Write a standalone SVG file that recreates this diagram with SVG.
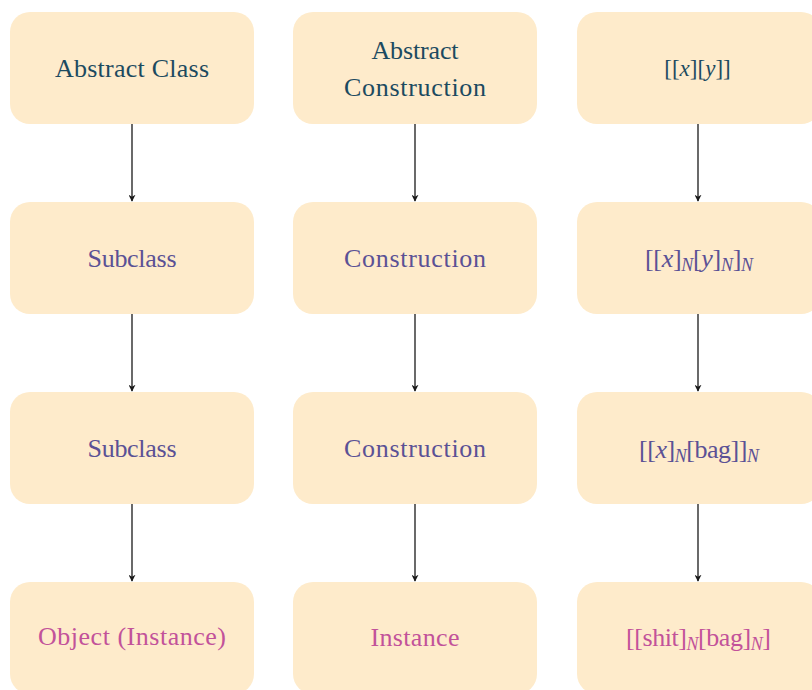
<svg xmlns="http://www.w3.org/2000/svg" width="812" height="690" viewBox="0 0 812 690">
<style>
.box{fill:#feebcb;}
.t{font-family:"Liberation Serif","DejaVu Serif",serif;font-size:26px;text-anchor:middle;}
.c1{fill:#1c4a60;}
.c2{fill:#5b5195;}
.c3{fill:#c2529a;}
.i{font-style:italic;}
.s{font-style:italic;font-size:18px;}
.conn line{stroke:#1a1a1a;stroke-width:1.3;marker-end:url(#ah);}
</style>
<defs>
<marker id="ah" viewBox="0 0 10 10" refX="9" refY="5" markerWidth="7" markerHeight="7" markerUnits="userSpaceOnUse" orient="auto">
<path d="M0,0 L10,5 L0,10 L3,5 Z" fill="#1a1a1a"/>
</marker>
</defs>
<rect width="812" height="690" fill="#ffffff"/>
<g class="conn">
<line x1="132" y1="124" x2="132" y2="201"/>
<line x1="132" y1="314" x2="132" y2="391"/>
<line x1="132" y1="504" x2="132" y2="581"/>
<line x1="415" y1="124" x2="415" y2="201"/>
<line x1="415" y1="314" x2="415" y2="391"/>
<line x1="415" y1="504" x2="415" y2="581"/>
<line x1="698" y1="124" x2="698" y2="201"/>
<line x1="698" y1="314" x2="698" y2="391"/>
<line x1="698" y1="504" x2="698" y2="581"/>
</g>
<g id="n-abstract-class"><rect class="box" x="10" y="12" width="244" height="112" rx="20"/><text class="t c1" x="132" y="77" textLength="154" lengthAdjust="spacing">Abstract Class</text></g>
<g id="n-subclass-1"><rect class="box" x="10" y="202" width="244" height="112" rx="20"/><text class="t c2" x="132" y="267" textLength="89" lengthAdjust="spacing">Subclass</text></g>
<g id="n-subclass-2"><rect class="box" x="10" y="392" width="244" height="112" rx="20"/><text class="t c2" x="132" y="457" textLength="89" lengthAdjust="spacing">Subclass</text></g>
<g id="n-object"><rect class="box" x="10" y="582" width="244" height="112" rx="20"/><text class="t c3" x="132" y="645" textLength="188" lengthAdjust="spacing">Object (Instance)</text></g>
<g id="n-abstract-construction"><rect class="box" x="293" y="12" width="244" height="112" rx="20"/><text class="t c1" x="415" y="59" textLength="87" lengthAdjust="spacing">Abstract</text><text class="t c1" x="415" y="96" textLength="142" lengthAdjust="spacing">Construction</text></g>
<g id="n-construction-1"><rect class="box" x="293" y="202" width="244" height="112" rx="20"/><text class="t c2" x="415" y="267" textLength="142" lengthAdjust="spacing">Construction</text></g>
<g id="n-construction-2"><rect class="box" x="293" y="392" width="244" height="112" rx="20"/><text class="t c2" x="415" y="457" textLength="142" lengthAdjust="spacing">Construction</text></g>
<g id="n-instance"><rect class="box" x="293" y="582" width="244" height="112" rx="20"/><text class="t c3" x="415" y="646" textLength="89" lengthAdjust="spacing">Instance</text></g>
<g id="n-xy"><rect class="box" x="577" y="12" width="244" height="112" rx="20"/><text class="t c1" x="697.5" y="76" style="font-size:23px">[[<tspan class="i">x</tspan>][<tspan class="i">y</tspan>]]</text></g>
<g id="n-xNyN"><rect class="box" x="577" y="202" width="244" height="112" rx="20"/><text class="t c2" x="699" y="267" textLength="108" lengthAdjust="spacing">[[<tspan class="i">x</tspan>]<tspan class="s" dy="4">N</tspan><tspan dy="-4">[</tspan><tspan class="i">y</tspan>]<tspan class="s" dy="4">N</tspan><tspan dy="-4">]</tspan><tspan class="s" dy="4">N</tspan></text></g>
<g id="n-xNbag"><rect class="box" x="577" y="392" width="244" height="112" rx="20"/><text class="t c2" x="699" y="458" textLength="120" lengthAdjust="spacing">[[<tspan class="i">x</tspan>]<tspan class="s" dy="4">N</tspan><tspan dy="-4">[bag]]</tspan><tspan class="s" dy="4">N</tspan></text></g>
<g id="n-shitbag"><rect class="box" x="577" y="582" width="244" height="112" rx="20"/><text class="t c3" x="698.5" y="646" textLength="145" lengthAdjust="spacing">[[shit]<tspan class="s" dy="4">N</tspan><tspan dy="-4">[bag]</tspan><tspan class="s" dy="4">N</tspan><tspan dy="-4">]</tspan></text></g>
</svg>
